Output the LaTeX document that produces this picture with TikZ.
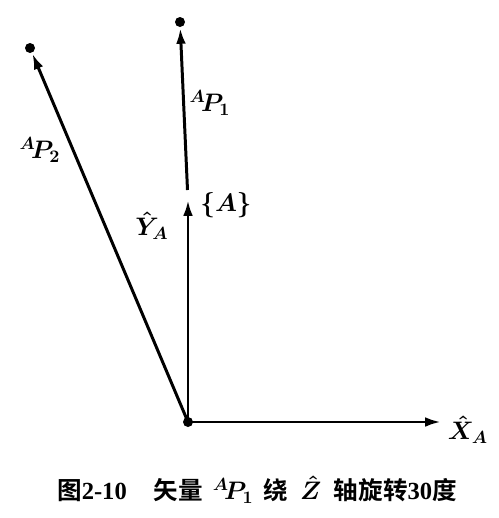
\documentclass[tikz,border=0pt]{standalone}
\usepackage{fontspec}
\setmainfont{Liberation Serif}
\newfontfamily\cjk[BoldFont={* Bold}]{Noto Sans CJK SC}
\usetikzlibrary{arrows.meta}

\begin{document}
\begin{tikzpicture}[x=0.02cm, y=-0.02cm,
    vec/.style={line width=1.7pt, -{Latex[length=9pt, width=5.5pt]}},
    lbl/.style={font=\Large\boldmath}]
    \useasboundingbox (0,0) rectangle (498,518);

    % origin, axis ends and vector tips
    \coordinate (O) at (188,422);
    \coordinate (xA) at (441,422);
    \coordinate (yA) at (188,200);
    \coordinate (p1) at (180,22);
    \coordinate (p2) at (30,48);
    \coordinate (p1s) at (187.5,190);

    % frame {A}
    \draw [vec] (O) -- (xA);
    \draw [vec] (O) -- (yA);
    \fill (O) circle [radius=5];

    % vectors AP1 and AP2
    \draw [vec, shorten >=0.12cm] (p1s) -- (p1);
    \draw [vec, shorten >=0.12cm] (O) -- (p2);
    \fill (p1) circle [radius=5];
    \fill (p2) circle [radius=5];

    % labels
    \node [lbl] (lx) at (468,430) {$\hat{X}_A$};
    \node [lbl] (ly) at (152,226) {$\hat{Y}_A$};
    \node [lbl] (la) at (226,205) {$\{A\}$};
    \node [lbl] (l1) at (210,103) {$^A\!P_1$};
    \node [lbl] (l2) at (40,150) {$^A\!P_2$};

    % caption
    \node [font=\fontsize{14}{16}\selectfont\bfseries] (cap) at (257,490)
        {{\cjk 图}2-10\hspace{1.1em}{\cjk 矢量}\hspace{0.4em}{\boldmath$^A\!P_1$}\hspace{0.4em}{\cjk 绕}\hspace{0.5em}{\boldmath$\hat{Z}$}\hspace{0.5em}{\cjk 轴旋转}30{\cjk 度}};
\end{tikzpicture}
\end{document}
